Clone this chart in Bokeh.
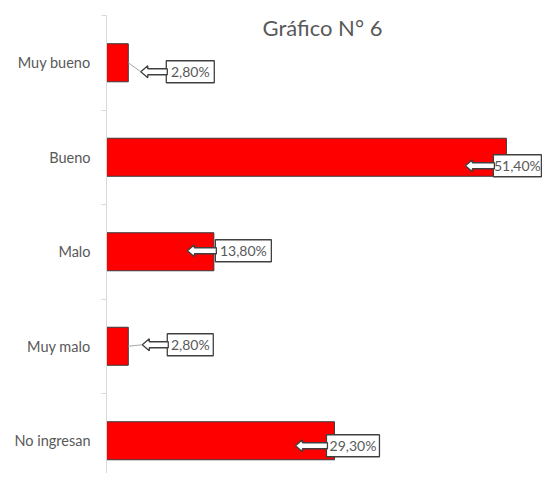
from bokeh.plotting import figure
from bokeh.models import Range1d, FixedTicker
from bokeh.core.properties import value
from bokeh.embed import file_html
from bokeh.resources import INLINE

# ---- data ----
categories = ["Muy bueno", "Bueno", "Malo", "Muy malo", "No ingresan"]
percent = [2.8, 51.4, 13.8, 2.8, 29.3]
label_text = ["2,80%", "51,40%", "13,80%", "2,80%", "29,30%"]
title_text = "Gráfico N° 6"

# ---- layout (pixels) ----
W, H = 542, 473
FRAME_LEFT = 106         # in figure px
FRAME_TOP = 15
PXX = 7.78               # px per percent
PXY = 94.5               # px per category band
FONT = "Lato"

# callout offsets in px: box left rel. bar end, box centre rel. bar centre (down +), box width, arrow length
box_dx = [38, -13, 1.5, 39, -8]
box_dy = [9, 8.5, -1, -1.5, 5]
box_w = [48, 48, 56, 46, 53]
arrow_len = [25.5, 28, 28, 25, 31]
BOX_H = 22

n = len(categories)
pos = [n - 1 - i for i in range(n)]          # Muy bueno at top
y_top = n - 0.5
y_bot = y_top - (H - FRAME_TOP) / PXY
x_max = (W - FRAME_LEFT) / PXX

p = figure(width=W, height=H, output_backend="svg", toolbar_location=None,
           x_range=Range1d(0, x_max), y_range=Range1d(y_bot, y_top),
           min_border_left=FRAME_LEFT, min_border_right=0,
           min_border_top=FRAME_TOP, min_border_bottom=0)
p.outline_line_color = None
p.xgrid.visible = False
p.ygrid.visible = False
p.xaxis.visible = False
p.background_fill_color = "white"
p.border_fill_color = "white"

ya = p.yaxis[0]
ya.ticker = FixedTicker(ticks=pos, minor_ticks=[k + 0.5 for k in range(-1, n)])
ya.major_label_overrides = {pp: c for pp, c in zip(pos, categories)}
ya.major_tick_out = 0
ya.major_tick_in = 0
ya.minor_tick_out = 5
ya.minor_tick_in = 0
ya.minor_tick_line_color = "#d9d9d9"
ya.axis_line_color = "#d9d9d9"
ya.major_label_standoff = 11
ya.major_label_text_font = FONT
ya.major_label_text_font_size = "14.5px"
ya.major_label_text_color = "#595959"

p.hbar(y=pos, left=0, right=percent, height=38 / PXY,
       fill_color="#ff0000", line_color="#3a3a3a", line_width=1)

# callouts
xs_arrow, ys_arrow = [], []
bl, br, bt, bb, tx, ty = [], [], [], [], [], []
lx0, ly0, lx1, ly1 = [], [], [], []
for i in range(n):
    v = percent[i]
    cy = pos[i] - box_dy[i] / PXY
    left = v + box_dx[i] / PXX
    right = left + box_w[i] / PXX
    tip = left - arrow_len[i] / PXX
    head = tip + 7 / PXX
    h6, h3 = 6 / PXY, 3 / PXY
    xs_arrow.append([tip, head, head, left + 1 / PXX, left + 1 / PXX, head, head])
    ys_arrow.append([cy, cy + h6, cy + h3, cy + h3, cy - h3, cy - h3, cy - h6])
    bl.append(left); br.append(right)
    bt.append(cy + BOX_H / 2 / PXY); bb.append(cy - BOX_H / 2 / PXY)
    tx.append((left + right) / 2); ty.append(cy)
    if tip > v:
        lx0.append(v); ly0.append(pos[i]); lx1.append(tip); ly1.append(cy)

p.segment(x0=lx0, y0=ly0, x1=lx1, y1=ly1, line_color="#a6a6a6", line_width=1)
p.quad(left=bl, right=br, top=bt, bottom=bb, fill_color="white",
       line_color="#404040", line_width=1.3)
p.patches(xs=xs_arrow, ys=ys_arrow, fill_color="white", line_color="#404040", line_width=1.3)
p.text(x=tx, y=ty, text=label_text, text_align="center", text_baseline="middle",
       text_font=value(FONT), text_font_size="14px", text_color="#595959")

# title
p.text(x=[(322 - FRAME_LEFT) / PXX], y=[y_top - (27 - FRAME_TOP) / PXY], text=[title_text],
       text_align="center", text_baseline="middle", text_font=value(FONT),
       text_font_size="22px", text_color="#595959")

open("out.html", "w").write(file_html(p, INLINE))
